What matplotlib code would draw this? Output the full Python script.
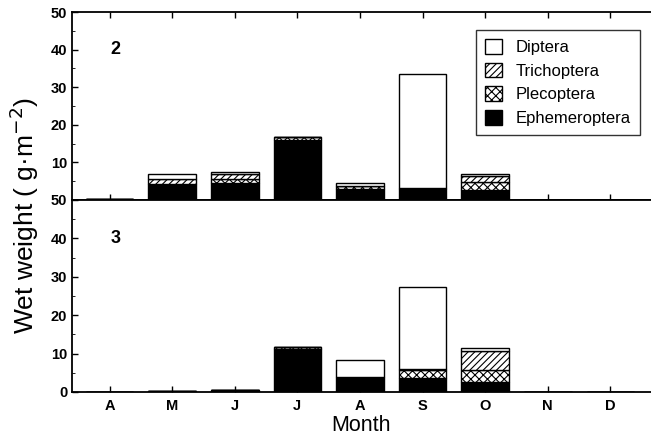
import matplotlib.pyplot as plt
from matplotlib.ticker import MultipleLocator
import numpy as np

plt.rcParams['font.family'] = ['Liberation Sans', 'DejaVu Sans']
plt.rcParams['hatch.linewidth'] = 0.8

months = ['A', 'M', 'J', 'J', 'A', 'S', 'O', 'N', 'D']
taxa = ['Ephemeroptera', 'Plecoptera', 'Trichoptera', 'Diptera']

# site 2, wet weight g/m2 per month (Apr..Dec)
site2 = {
    'Ephemeroptera': [0.2, 4.2, 4.5, 16.0, 2.8, 2.8, 2.7, 0, 0],
    'Plecoptera':    [0, 0, 1.2, 0.8, 1.0, 0.4, 2.2, 0, 0],
    'Trichoptera':   [0, 1.3, 1.2, 0, 0, 0, 1.6, 0, 0],
    'Diptera':       [0, 1.4, 0.5, 0, 0.6, 30.3, 0.4, 0, 0],
}
# site 3
site3 = {
    'Ephemeroptera': [0, 0.3, 0.4, 11.2, 3.9, 3.6, 2.6, 0, 0],
    'Plecoptera':    [0, 0, 0, 0.5, 0, 2.2, 3.1, 0, 0],
    'Trichoptera':   [0, 0, 0, 0, 0, 0.3, 5.0, 0, 0],
    'Diptera':       [0, 0, 0, 0, 4.4, 21.2, 0.8, 0, 0],
}

styles = {
    'Diptera':       dict(facecolor='white', hatch=None),
    'Trichoptera':   dict(facecolor='white', hatch='/////'),
    'Plecoptera':    dict(facecolor='white', hatch='xxxx'),
    'Ephemeroptera': dict(facecolor='black', hatch=None),
}

fig = plt.figure(figsize=(6.51, 4.40), dpi=100)
ax_top = fig.add_axes([0.1106, 0.5455, 0.8894, 0.4272])
ax_bot = fig.add_axes([0.1106, 0.1091, 0.8894, 0.4364], sharex=ax_top)

x = np.arange(len(months))
for ax, data, tag in [(ax_top, site2, '2'), (ax_bot, site3, '3')]:
    bottom = np.zeros(len(months))
    for t in taxa:
        vals = np.array(data[t])
        ax.bar(x, vals, 0.76, bottom=bottom, edgecolor='black', linewidth=1.0,
               label=t, **styles[t])
        bottom += vals
    ax.set_ylim(0, 50)
    ax.set_xlim(-0.6, 8.65)
    ax.yaxis.set_major_locator(MultipleLocator(10))
    ax.yaxis.set_minor_locator(MultipleLocator(5))
    ax.tick_params(direction='in', length=4, width=1, labelsize=10.5)
    ax.tick_params(which='minor', direction='in', length=2)
    ax.spines['right'].set_visible(False)
    for s in ['left', 'top', 'bottom']:
        ax.spines[s].set_linewidth(1.3)
    ax.text(0.02, 40, tag, fontsize=13, fontweight='bold', va='center')

ax_top.set_yticks([10, 20, 30, 40, 50])
ax_top.tick_params(axis='x', top=True, labelbottom=False)
ax_bot.set_xticks(x)
ax_bot.set_xticklabels(months, fontweight='bold', fontsize=10.5)
ax_bot.tick_params(axis='x', pad=5)
for lab in ax_top.get_yticklabels() + ax_bot.get_yticklabels():
    lab.set_fontweight('bold')

fig.text(0.5545, 0.008, 'Month', fontsize=15.5, ha='center', va='bottom')
fig.text(0.037, 0.51, 'Wet weight ( g\u00b7m$^{-2}$)', rotation=90,
         fontsize=19, va='center', ha='center')

handles, labels = ax_top.get_legend_handles_labels()
leg = ax_top.legend(handles[::-1], labels[::-1], loc='upper right',
                    bbox_to_anchor=(0.995, 0.95), fontsize=12, frameon=True,
                    fancybox=False, edgecolor='black', handlelength=1.0,
                    handleheight=1.0, labelspacing=0.45, borderpad=0.55,
                    handletextpad=0.8)
leg.get_frame().set_linewidth(1.0)

fig.savefig('out.png', dpi=100)
